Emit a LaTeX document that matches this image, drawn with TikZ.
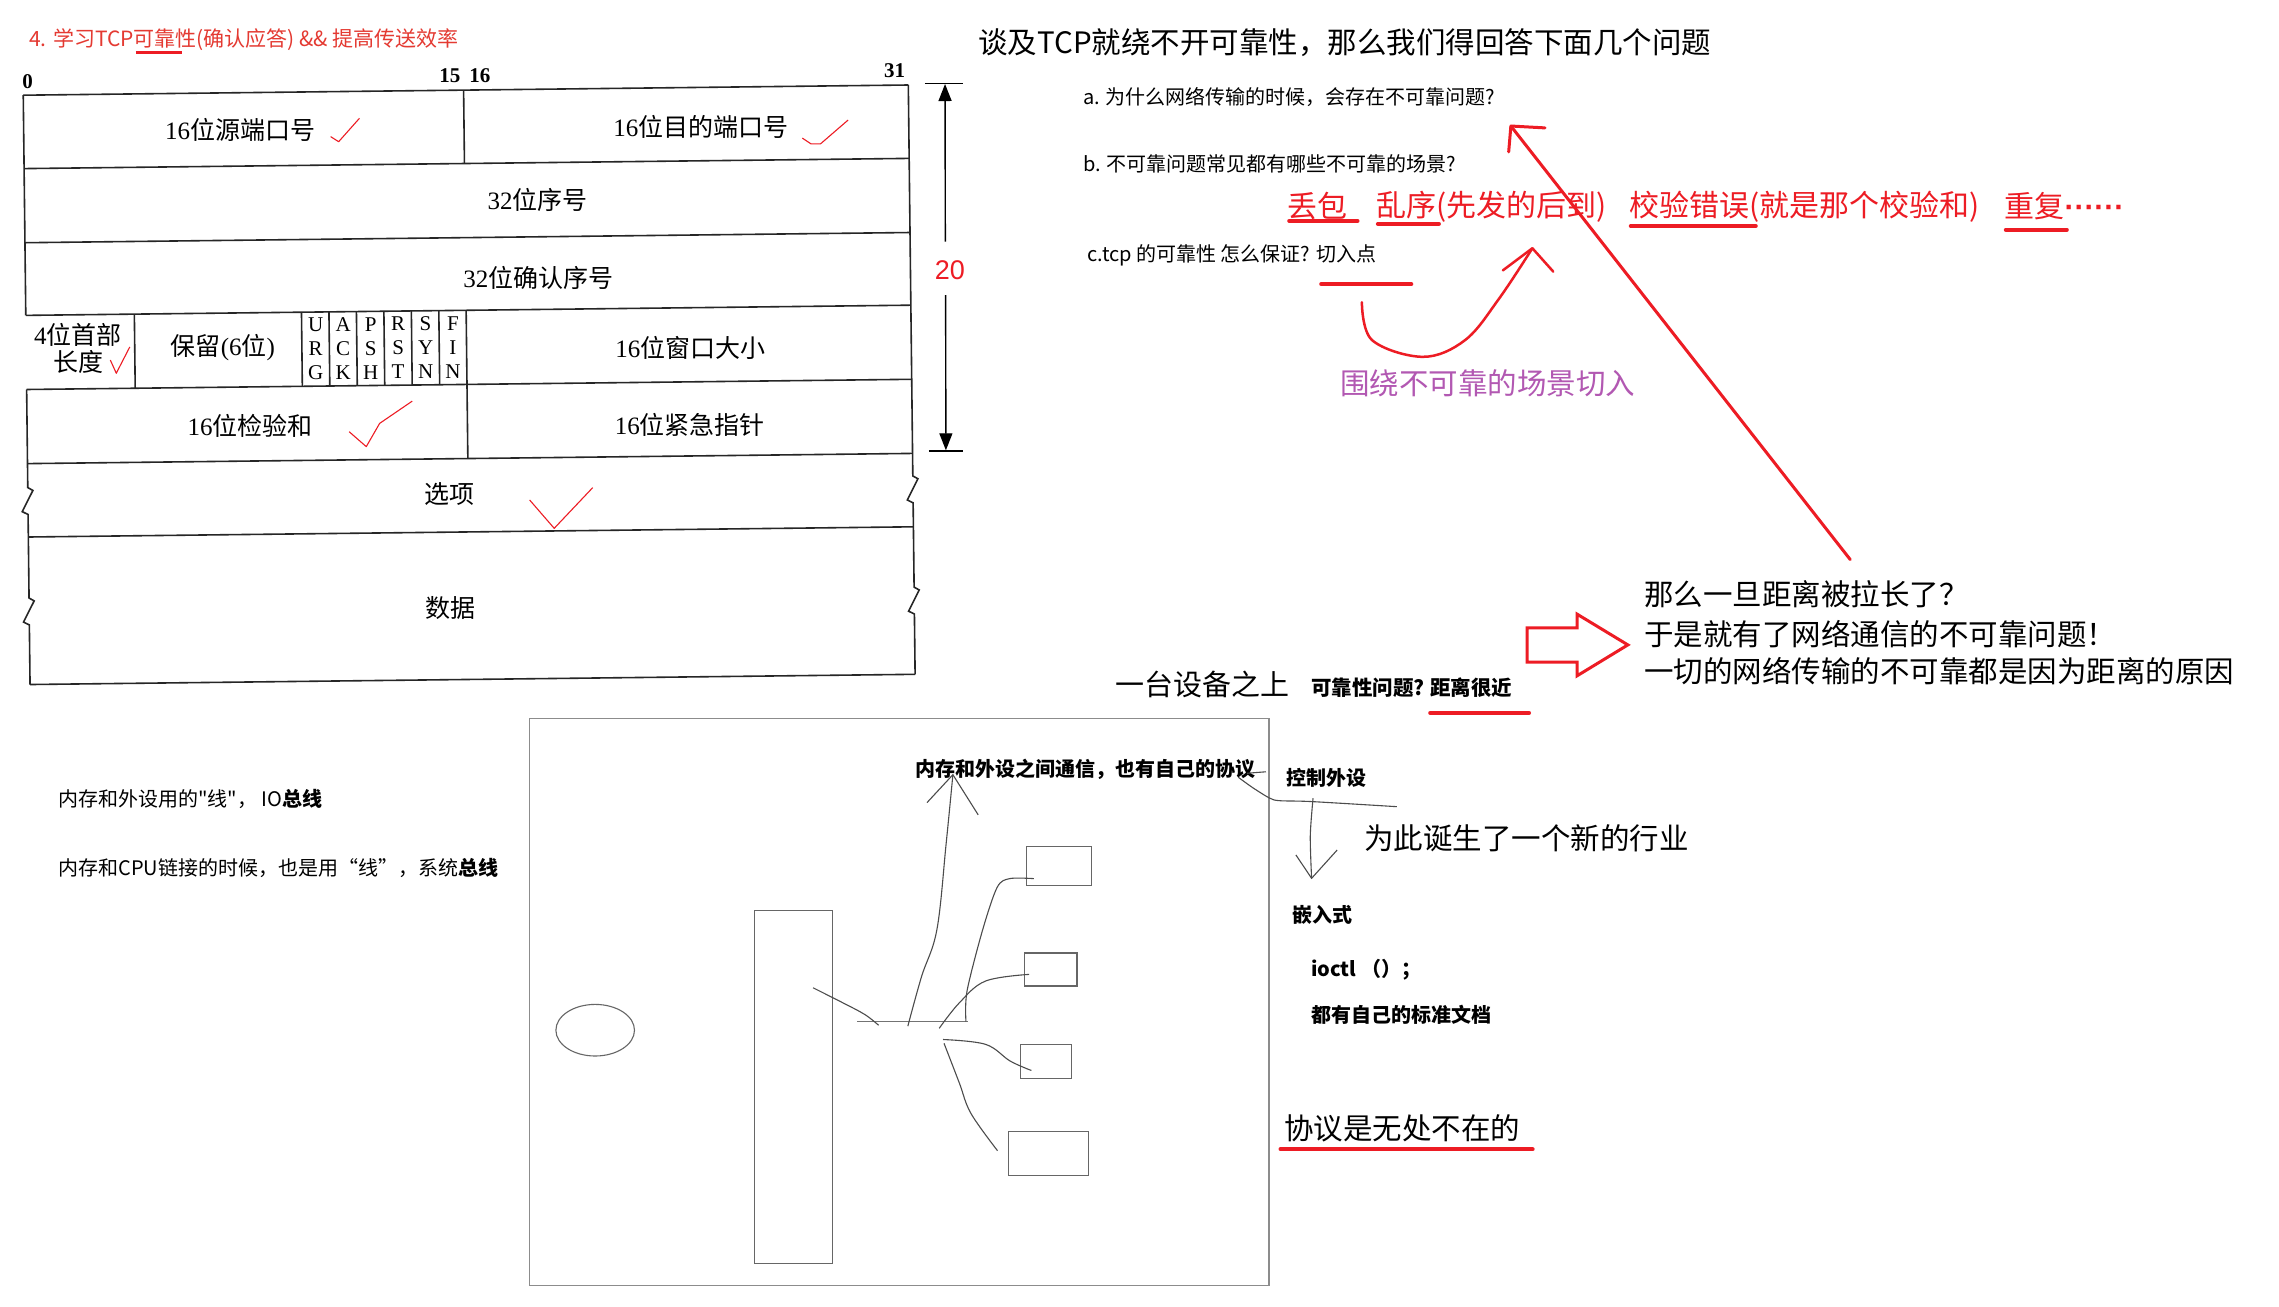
\documentclass[tikz,border=0pt]{standalone}
\usepackage{fontspec}
\setmainfont{Liberation Sans}
\newfontfamily\cjk{Noto Sans CJK SC}
\newfontfamily\ser{Liberation Serif}
\usetikzlibrary{arrows.meta}
\definecolor{pred}{RGB}{237,28,36}
\definecolor{tred}{RGB}{228,58,50}
\definecolor{purp}{RGB}{178,88,178}
\newcommand\fz[2]{\fontsize{#1}{#2}\selectfont}
\begin{document}
\begin{tikzpicture}[x=1.4535pt,y=-1.4535pt,
  txt/.style={inner sep=0pt, anchor=west, font=\cjk},
  lbl/.style={inner sep=0pt, font=\cjk\fz{25}{30}},
  flag/.style={inner sep=0pt, align=center, font=\ser\fz{21}{24}},
  bitno/.style={inner sep=0pt, font=\ser\bfseries\fz{21}{24}},
  tl/.style={line width=1.6pt, black!85},
  ck/.style={pred, line width=1.1pt, line join=round},
  uline/.style={pred, line width=4pt, line cap=round},
  rarrow/.style={pred, line width=3pt, line cap=round, line join=round},
  gbox/.style={draw=black!45, line width=1.3pt},
  ink/.style={black!70, line width=1.1pt},
  dev/.style={draw=black!60, line width=1.1pt},
]
\useasboundingbox (0,0) rectangle (1568,899);
\fill[white] (0,0) rectangle (1568,899);

% ---------------- title ----------------
\node[txt, text=tred, font=\cjk\fz{21}{25}] (title) at (20,27) {4. 学习TCP可靠性(确认应答) \&\& 提高传送效率};
\draw[pred, line width=2.5pt] (93.5,36) -- (125,36);

% ---------------- bit numbers ----------------
\node[bitno] (b0) at (19,56) {0};
\node[bitno] (b15) at (309.6,52) {15};
\node[bitno] (b16) at (330.2,52) {16};
\node[bitno] (b31) at (615.5,48.6) {31};

% ---------------- TCP header ----------------
\begin{scope}[shift={(16,65.5)}, rotate=0.66]
  \foreach \yy in {0,50.5,101.5,151.5,202.5,253.5,304,405.5}
    \draw[tl] (0,\yy) -- (609,\yy);
  % left edge (missing beside the header-length cell)
  \draw[tl] (0,0) -- (0,151.5);
  \draw[tl] (0,202.5) -- (0,270) -- (3.5,272) -- (-4,286.5) -- (0,288.5) -- (0,346)
            -- (3.5,348) -- (-4,362.5) -- (0,364.5) -- (0,405.5);
  % right edge
  \draw[tl] (609,0) -- (609,269) -- (612.5,271) -- (605,285.5) -- (609,287.5) -- (609,345.5)
            -- (612.5,347.5) -- (605,362) -- (609,364) -- (609,405.5);
  % dividers
  \draw[tl] (303,0) -- (303,50.5);
  \draw[tl] (303,202.5) -- (303,253.5);
  \foreach \xx in {74.7,189.7,208.6,227.5,246.4,265.3,284.2,303}
    \draw[tl] (\xx,151.5) -- (\xx,202.5);
  % labels
  \node[lbl] (src) at (149,25.5) {{\ser 16}位源端口号};
  \node[lbl] (dst) at (466,27) {{\ser 16}位目的端口号};
  \node[lbl] (seq) at (353,76) {{\ser 32}位序号};
  \node[lbl] (ack) at (353,130) {{\ser 32}位确认序号};
  \node[lbl] (hl1) at (35.6,165.4) {{\ser 4}位首部};
  \node[lbl] (hl2) at (36,183.7) {长度};
  \node[lbl] (rsv) at (135.3,175.5) {保留{\ser (6}位{\ser )}};
  \node[flag] (fu) at (199.2,176.8) {U\\R\\G};
  \node[flag] (fa) at (218.1,176.8) {A\\C\\K};
  \node[flag] (fp) at (237,176.8) {P\\S\\H};
  \node[flag] (fr) at (255.9,176.8) {R\\S\\T};
  \node[flag] (fs) at (274.8,176.8) {S\\Y\\N};
  \node[flag] (ff) at (293.6,176.8) {F\\I\\N};
  \node[lbl] (win) at (457,179) {{\ser 16}位窗口大小};
  \node[lbl] (chk) at (153.4,229.5) {{\ser 16}位检验和};
  \node[lbl] (urg) at (456,232) {{\ser 16}位紧急指针};
  \node[lbl] (opt) at (290,277.8) {选项};
  \node[lbl] (dat) at (290,356.5) {数据};
\end{scope}

% check marks
\draw[ck] (227.5,94) -- (233,97.5) -- (247.3,81.4);
\draw[ck] (552,95) -- (558,99) -- (564.5,99) -- (583.5,82.6);
\draw[ck] (75.9,247.7) -- (80,256.8) -- (89.3,238.7);
\draw[ck] (240.2,297) -- (252,307.3) -- (261.2,291.3) -- (283.6,276);
\draw[ck] (364.4,344) -- (381.3,363.5) -- (407.8,335.5);

% dimension arrow
\draw[line width=1.5pt] (636.4,57.3) -- (662.5,57.3);
\draw[line width=1.5pt] (639,310.3) -- (662.5,310.3);
\node[inner sep=0pt, text=pred, font=\fz{27}{30}] (twenty) at (653.6,185.8) {20};
\coordinate (dtop) at (650.2,57.8);
\coordinate (dbot) at (650.8,309.8);
\draw[line width=1.4pt, -{Triangle[length=17pt,width=13pt]}] (650.4,166.3) -- (dtop);
\draw[line width=1.4pt, -{Triangle[length=17pt,width=13pt]}] (650.6,203) -- (dbot);

% ---------------- questions ----------------
\node[txt, font=\cjk\fz{29.5}{34}] (head) at (673,29) {谈及TCP就绕不开可靠性，那么我们得回答下面几个问题};
\node[txt, font=\cjk\fz{20}{24}] (qa) at (745,67) {a. 为什么网络传输的时候，会存在不可靠问题?};
\node[txt, font=\cjk\fz{20}{24}] (qb) at (745,113) {b. 不可靠问题常见都有哪些不可靠的场景?};
\node[txt, font=\cjk\fz{30}{35}, text=pred] (r1) at (886,142) {丢包};
\node[txt, font=\cjk\fz{30}{35}, text=pred] (r2) at (947,142) {乱序(先发的后到)};
\node[txt, font=\cjk\fz{30}{35}, text=pred] (r3) at (1121,142) {校验错误(就是那个校验和)};
\node[txt, font=\cjk\fz{30}{35}, text=pred] (r4) at (1379,142) {重复{\normalfont\bfseries ······}};
\draw[uline] (887,152) -- (934,152);
\draw[uline] (948,154) -- (990,154);
\draw[uline] (1122,155.5) -- (1208,155.5);
\draw[uline] (1380,158) -- (1422,158);
\node[txt, font=\cjk\fz{20}{24}] (qc) at (748,176) {c.tcp 的可靠性 怎么保证? 切入点};
\draw[uline] (909,195.5) -- (971,195.5);
% curved red arrow
\draw[pred, line width=2.5pt, line cap=round]
  plot[smooth, tension=0.6] coordinates {(937,208) (944,234) (979,245.5) (1008,234) (1031,206) (1054.3,170.8)};
\draw[pred, line width=2.5pt, line cap=round, line join=round] (1034,186) -- (1054.3,170.8) -- (1068.7,186.9);
\node[txt, font=\cjk\fz{29.5}{34}, text=purp] (around) at (922,264) {围绕不可靠的场景切入};

% long red arrow
\coordinate (ltail) at (1273,385);
\coordinate (ltip) at (1039.5,86.7);
\draw[rarrow] (ltail) -- (ltip);
\draw[rarrow] (1063,88) -- (ltip) -- (1038,104.5);

% ---------------- distance ----------------
\node[txt, font=\cjk\fz{29}{34}] (one) at (767,471) {一台设备之上};
\node[txt, font=\cjk\bfseries\fz{20.5}{24}] (rel) at (902,473) {可靠性问题?};
\node[txt, font=\cjk\bfseries\fz{20.5}{24}] (near) at (984,473) {距离很近};
\draw[uline] (984,490.5) -- (1052,490.5);
\draw[pred, line width=3pt, line join=miter]
  (1050.6,432) -- (1085,432) -- (1085,422.5) -- (1120,443.7) -- (1085,465) -- (1085,455.6) -- (1050.6,455.6) -- cycle;
\node[txt, font=\cjk\fz{29.5}{34}] (far1) at (1131,409) {那么一旦距离被拉长了？};
\node[txt, font=\cjk\fz{29.5}{34}] (far2) at (1131,436) {于是就有了网络通信的不可靠问题！};
\node[txt, font=\cjk\fz{29.5}{34}] (far3) at (1131,462) {一切的网络传输的不可靠都是因为距离的原因};

% ---------------- bus notes ----------------
\node[txt, font=\cjk\fz{20}{24}] (io) at (40,550) {内存和外设用的"线"，\ IO{\bfseries 总线}};
\node[txt, font=\cjk\fz{20}{24}] (sys) at (40,597) {内存和CPU链接的时候，也是用“线”，系统{\bfseries 总线}};

% ---------------- computer sketch ----------------
\draw[gbox] (364.4,494.3) rectangle (873,884.4);
\draw[dev] (409.5,708.8) ellipse [x radius=39.3pt, y radius=25.8pt];
\draw[dev] (519.4,626.4) rectangle (572.5,869);
\draw[black!55, line width=1.3pt] (589.7,702.8) -- (666,702.8);
\draw[dev] (706,582.7) rectangle (751,609);
\draw[dev] (704.6,655.7) rectangle (741,678.4);
\draw[dev] (702,718.5) rectangle (737,742.3);
\draw[dev] (694,778.6) rectangle (749,808.6);
\draw[ink] plot[smooth, tension=0.6] coordinates {(559.4,679.6) (580,690) (595,698) (604.5,705.4)};
\draw[ink] plot[smooth, tension=0.6] coordinates {(624.6,706) (634,672) (644.6,639.6) (651,580) (655.6,533)};
\draw[ink] (637.8,552.2) -- (655.6,533) -- (673,560.6);
\draw[ink] plot[smooth, tension=0.5] coordinates {(664.6,702.8) (665.3,682) (676,640) (686,610.6) (694.6,604.5) (711.3,604.5)};
\draw[ink] plot[smooth, tension=0.6] coordinates {(646.2,707.5) (660,690) (678,675) (708,670.4)};
\draw[ink] plot[smooth, tension=0.6] coordinates {(648.8,715.2) (678,718.5) (695,730) (709.6,736.5)};
\draw[ink] plot[smooth, tension=0.6] coordinates {(649.5,717.8) (660,745) (668,766) (686.3,791.7)};
\node[txt, font=\cjk\bfseries\fz{20}{24}] (mem) at (630,529) {内存和外设之间通信，也有自己的协议};
\draw[ink] (858,532) -- (871,531);
\draw[ink] plot[smooth, tension=0.5] coordinates {(852,534.8) (862,542) (873.7,549.2) (880.6,550.9) (902.4,551.5) (961,555)};
\node[txt, font=\cjk\bfseries\fz{20}{24}] (ctl) at (885,535) {控制外设};
\draw[ink] plot[smooth, tension=0.5] coordinates {(903.4,549.2) (901.5,575) (902.4,604.3)};
\draw[ink] (891.6,588.2) -- (902.4,604.3) -- (920,584.8);
\node[txt, font=\cjk\fz{29.5}{34}] (ind) at (938.6,577) {为此诞生了一个新的行业};
\node[txt, font=\cjk\bfseries\fz{20}{24}] (emb) at (889,629.5) {嵌入式};
\node[txt, font=\cjk\bfseries\fz{20}{24}] (ioctl) at (902,667.4) {ioctl （）；};
\node[txt, font=\cjk\bfseries\fz{20}{24}] (doc) at (902,698.3) {都有自己的标准文档};
\node[txt, font=\cjk\fz{29.5}{34}] (every) at (883.4,776.3) {协议是无处不在的};
\draw[uline] (881,790.7) -- (1054.5,790.7);
\end{tikzpicture}
\end{document}
